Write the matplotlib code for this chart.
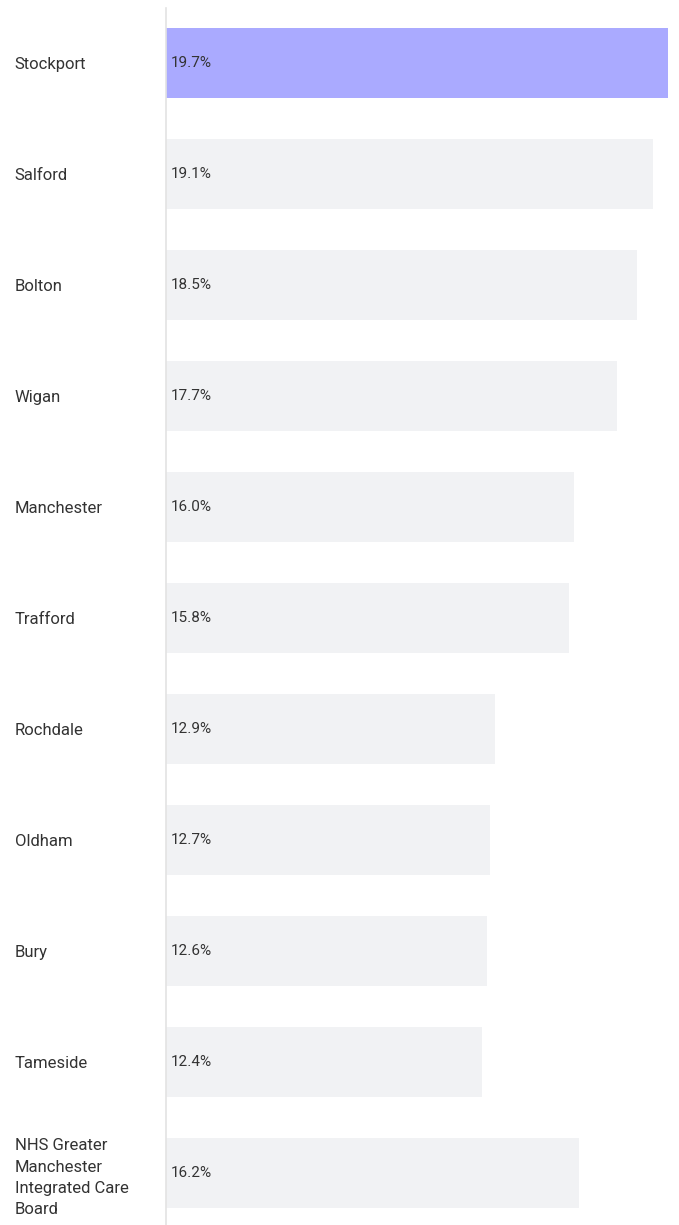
import numpy as np
import matplotlib.pyplot as plt

plt.rcParams['font.family'] = ['Roboto', 'DejaVu Sans']

areas = ["Stockport", "Salford", "Bolton", "Wigan", "Manchester", "Trafford",
         "Rochdale", "Oldham", "Bury", "Tameside",
         "NHS Greater\nManchester\nIntegrated Care\nBoard"]
values = [19.7, 19.1, 18.5, 17.7, 16.0, 15.8, 12.9, 12.7, 12.6, 12.4, 16.2]
highlight = "Stockport"

W, H = 679, 1225
fig = plt.figure(figsize=(W / 100, H / 100), dpi=100)
ax = fig.add_axes([166 / W, 0, (W - 166) / W, 1217 / H])

pos = np.arange(len(areas))
colors = ["#aaaaff" if a == highlight else "#f1f2f4" for a in areas]
ax.barh(pos, values, height=0.63, color=colors, edgecolor="none")

for y, v in zip(pos, values):
    ax.text(0.2, y, f"{v:.1f}%", va="center", ha="left", fontsize=11, color="#333333")

ax.set_xlim(0, (W - 166) / 25.48)
ax.set_ylim(10 + 52 / 111, -55 / 111)
ax.set_xticks([])
ax.set_yticks(pos)
ax.set_yticklabels(areas, fontsize=12, color="#333333", linespacing=1.5)
ax.tick_params(axis="y", length=0, pad=109)
for lab in ax.get_yticklabels():
    lab.set_horizontalalignment("left")

for s in ["top", "right", "bottom"]:
    ax.spines[s].set_visible(False)
ax.spines["left"].set_color("#e3e3e3")
ax.spines["left"].set_linewidth(1.2)

plt.savefig("out.png", dpi=100)
